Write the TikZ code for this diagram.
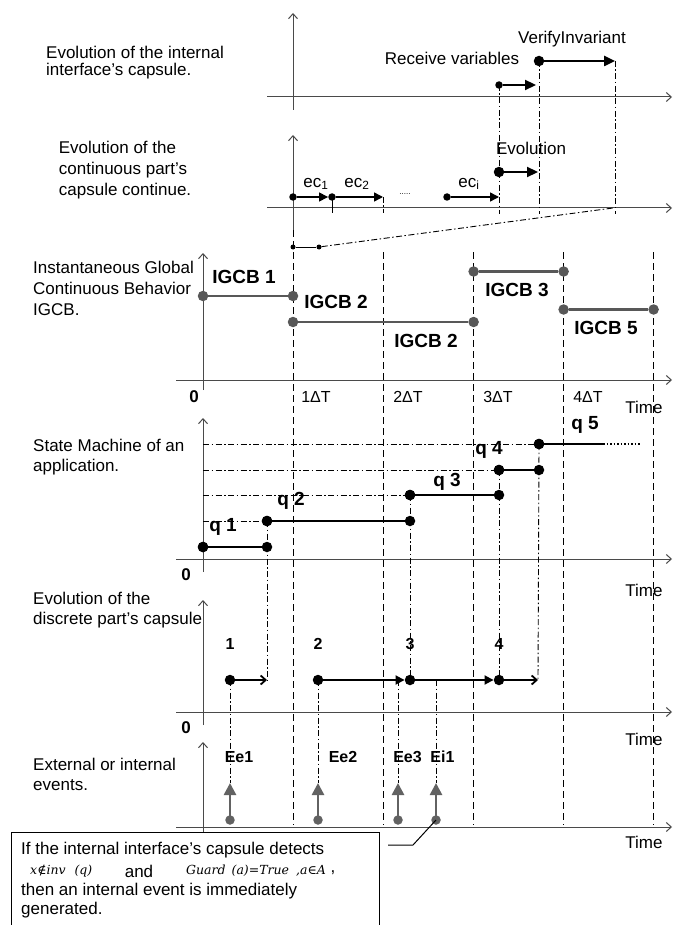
\documentclass[tikz,border=0pt]{standalone}
\usepackage{fontspec}
\setmainfont{Liberation Sans}
\newfontfamily\dserif{DejaVu Serif}
\usetikzlibrary{arrows.meta}
\definecolor{axg}{HTML}{4A4A4A}
\definecolor{igc}{HTML}{585858}
\definecolor{evg}{HTML}{626262}
\begin{document}
\begin{tikzpicture}[x=1pt,y=-1pt,
  ax/.style={draw=axg,line width=1pt,-{Straight Barb[length=5pt,width=9pt]}},
  dsh/.style={line width=1pt,dash pattern=on 7pt off 4pt},
  dd/.style={line width=0.9pt,dash pattern=on 6pt off 2.5pt on 1.5pt off 2.5pt},
  bdot/.style={circle,fill=black,inner sep=0pt,minimum size=10.5pt},
  sdot/.style={circle,fill=black,inner sep=0pt,minimum size=7.5pt},
  tdot/.style={circle,fill=black,inner sep=0pt,minimum size=5pt},
  gdot/.style={circle,fill=igc,inner sep=0pt,minimum size=10.5pt},
  edot/.style={circle,fill=evg,inner sep=0pt,minimum size=9.5pt},
  lbl/.style={font=\fontsize{17}{20}\selectfont,inner sep=0pt},
  blk/.style={inner sep=0pt,anchor=north west,align=left},
  bl/.style={font=\fontsize{19}{22}\selectfont\bfseries,inner sep=0pt},
  bs/.style={font=\fontsize{16}{19}\selectfont\bfseries,inner sep=0pt},
  tk/.style={font=\fontsize{16}{19}\selectfont,inner sep=0pt},
  mth/.style={inner sep=0pt,anchor=west,font=\fontsize{12.5}{13}\selectfont\dserif\itshape},
  bigarr/.style={line width=2.4pt,-{Triangle[length=11pt,width=10pt]}},
  eca/.style={line width=1.4pt,-{Triangle[length=9pt,width=9pt]}},
  opn/.style={line width=1.8pt,-{Straight Barb[length=5pt,width=9pt]}},
  fil/.style={line width=1.8pt,-{Triangle[length=9pt,width=9pt]}},
  evarr/.style={draw=evg,line width=2.6pt,-{Triangle[length=12pt,width=12pt]}},
  igl/.style={draw=igc,line width=2.2pt},
  sml/.style={line width=2.2pt},
]
\useasboundingbox (0,0) rectangle (672,925);
\fill[white] (0,0) rectangle (672,925);

% ---------------- coordinates ----------------
\coordinate (a1b) at (293,110); \coordinate (a1t) at (293,13);
\coordinate (h1l) at (267,97);  \coordinate (h1r) at (672,97);
\coordinate (a2b) at (293,230); \coordinate (a2t) at (293,135);
\coordinate (h2l) at (267,208); \coordinate (h2r) at (672,208);
\coordinate (a3b) at (203,390); \coordinate (a3t) at (203,253);
\coordinate (h3l) at (176,380); \coordinate (h3r) at (672,380);
\coordinate (a4b) at (203,572); \coordinate (a4t) at (203,418);
\coordinate (h4l) at (176,559); \coordinate (h4r) at (672,559);
\coordinate (a5b) at (203,725); \coordinate (a5t) at (203,600);
\coordinate (h5l) at (176,712); \coordinate (h5r) at (672,712);
\coordinate (a6b) at (203,832); \coordinate (a6t) at (203,742);
\coordinate (h6l) at (176,827); \coordinate (h6r) at (672,827);

% dashed verticals
\coordinate (g0t) at (293,230);   \coordinate (g0b) at (293,825);
\coordinate (g1t) at (383.6,252); \coordinate (g1b) at (383.6,825);
\coordinate (g2t) at (473.6,252); \coordinate (g2b) at (473.6,825);
\coordinate (g3t) at (563.6,252); \coordinate (g3b) at (563.6,825);
\coordinate (g4t) at (653.6,252); \coordinate (g4b) at (653.6,825);
\draw[dsh] (g0t) -- (g0b);
\draw[dsh] (g1t) -- (g1b);
\draw[dsh] (g2t) -- (g2b);
\draw[dsh] (g3t) -- (g3b);
\draw[dsh] (g4t) -- (g4b);

% ---------------- axes ----------------
\draw[ax] (a1b) -- (a1t); \draw[ax] (h1l) -- (h1r);
\draw[ax] (a2b) -- (a2t); \draw[ax] (h2l) -- (h2r);
\draw[ax] (a3b) -- (a3t); \draw[ax] (h3l) -- (h3r);
\draw[ax] (a4b) -- (a4t); \draw[ax] (h4l) -- (h4r);
\draw[ax] (a5b) -- (a5t); \draw[ax] (h5l) -- (h5r);
\draw[ax] (a6b) -- (a6t); \draw[ax] (h6l) -- (h6r);

% ---------------- left texts ----------------
\node[blk,font=\fontsize{17}{17}\selectfont] (t1) at (46,46) {Evolution of the internal\\interface's capsule.};
\node[blk,font=\fontsize{17}{21}\selectfont] (t2) at (58.7,141) {Evolution of the\\continuous part's\\capsule continue.};
\node[blk,font=\fontsize{17}{21}\selectfont] (t3) at (33,261) {Instantaneous Global\\Continuous Behavior\\IGCB.};
\node[blk,font=\fontsize{17}{20}\selectfont] (t4) at (33,439) {State Machine of an\\application.};
\node[blk,font=\fontsize{17}{20}\selectfont] (t5) at (33,592) {Evolution of the\\discrete part's capsule};
\node[blk,font=\fontsize{17}{20}\selectfont] (t6) at (33,758) {External or internal\\events.};

% ---------------- panel 1 ----------------
\node[bdot] (rv) at (539,61) {};
\coordinate (rve) at (615,61);
\node[sdot] (r0) at (499,85) {};
\coordinate (r0e) at (536,85);
\coordinate (v1) at (499,214); \coordinate (v2) at (539,214); \coordinate (v3) at (615,214);
\draw[dd] (r0.center) -- (v1);
\draw[dd] (rv.center) -- (v2);
\draw[dd] (rve) -- (v3);
\draw[bigarr] (rv) -- (rve);
\draw[bigarr,line width=2.2pt] (r0) -- (r0e);
\node[lbl] (vil) at (572,39) {VerifyInvariant};
\node[lbl] (rvl) at (452,58) {Receive variables};

% ---------------- panel 2 ----------------
\node[sdot] (e0) at (293,197) {};
\node[sdot] (e1) at (332,197) {};
\node[sdot] (e3) at (447,197) {};
\coordinate (e2) at (383,197); \coordinate (e4) at (499,197);
\coordinate (k1) at (332,213); \coordinate (k2) at (383,213);
\draw[line width=0.9pt] (e1.center) -- (k1);
\draw[dd] (e2) -- (k2);
\draw[eca] (e0) -- (e1);
\draw[eca] (e1) -- (e2);
\draw[eca] (e3) -- (e4);
\node[font=\fontsize{8}{8}\selectfont,inner sep=0pt] (dots) at (405,194) {.....};
\node[lbl] (ec1) at (316,184) {ec\textsubscript{1}};
\node[lbl] (ec2) at (357,184) {ec\textsubscript{2}};
\node[lbl] (eci) at (469,184) {ec\textsubscript{i}};
\node[bdot] (ev) at (499,172) {};
\coordinate (eve) at (538,172);
\draw[bigarr,line width=2.2pt] (ev) -- (eve);
\node[lbl] (evl) at (531,148) {Evolution};

% link to IGCB panel
\node[tdot] (s0) at (293,247) {};
\node[tdot] (s1) at (319,247) {};
\coordinate (s2) at (613,208);
\draw[line width=1pt] (s0) -- (s1);
\draw[dd] (s1) -- (s2);

% ---------------- IGCB panel ----------------
\node[gdot] (i1a) at (203,296) {};
\node[gdot] (i1b) at (293,296) {};
\node[gdot] (i2a) at (293,322) {};
\node[gdot] (i2b) at (473.6,322) {};
\node[gdot] (i3a) at (473.6,271.5) {};
\node[gdot] (i3b) at (563.6,271.5) {};
\node[gdot] (i5a) at (563.6,309.5) {};
\node[gdot] (i5b) at (653.6,309.5) {};
\draw[igl] (i1a) -- (i1b);
\draw[igl] (i2a) -- (i2b);
\draw[igl] (i3a) -- (i3b);
\draw[igl] (i5a) -- (i5b);
\node[bl] (l1) at (244,277) {IGCB 1};
\node[bl] (l2) at (336,302) {IGCB 2};
\node[bl] (l2b) at (426,341) {IGCB 2};
\node[bl] (l3) at (517,290) {IGCB 3};
\node[bl] (l5) at (606,328) {IGCB 5};
\node[bs,font=\fontsize{17}{19}\selectfont\bfseries] (z3) at (194,397) {0};
\node[tk] (d1t) at (316,397) {1ΔT};
\node[tk] (d2t) at (408,397) {2ΔT};
\node[tk] (d3t) at (498,397) {3ΔT};
\node[tk] (d4t) at (588,397) {4ΔT};
\node[lbl] (tm3) at (644,407) {Time};

% ---------------- state machine panel ----------------
\node[bdot] (q1a) at (203,547) {};
\node[bdot] (q1b) at (267,547) {};
\node[bdot] (q2a) at (267,521) {};
\node[bdot] (q2b) at (410,521) {};
\node[bdot] (q3a) at (410,495) {};
\node[bdot] (q3b) at (499,495) {};
\node[bdot] (q4a) at (499,470) {};
\node[bdot] (q4b) at (539,470) {};
\node[bdot] (q5a) at (539,444) {};
\coordinate (q5e) at (603,444); \coordinate (q5d) at (640,444);
\coordinate (l1s) at (203,444); \coordinate (l2s) at (203,470);
\coordinate (l3s) at (203,495); \coordinate (l4s) at (203,521);

% discrete coordinates
\node[bdot] (d1) at (230,680) {};
\node[bdot] (d2) at (318,680) {};
\node[bdot] (d3) at (410,680) {};
\node[bdot] (d4) at (499,680) {};
\coordinate (d1e) at (267,680); \coordinate (d4e) at (538,680);
\coordinate (x3) at (398,680); \coordinate (x4) at (436,680);

\draw[dd] (l1s) -- (q5a.center);
\draw[dd] (l2s) -- (q4a.center);
\draw[dd] (l3s) -- (q3a.center);
\draw[dd] (l4s) -- (q2a.center);
\draw[dd] (q2a.center) -- (d1e);
\draw[dd] (q3a.center) -- (d3.center);
\draw[dd] (q4a.center) -- (d4.center);
\draw[dd] (q5a.center) -- (d4e);
\draw[sml] (q1a) -- (q1b);
\draw[sml] (q2a) -- (q2b);
\draw[sml] (q3a) -- (q3b);
\draw[sml] (q4a) -- (q4b);
\draw[sml] (q5a) -- (q5e);
\draw[line width=2pt,dash pattern=on 1.5pt off 2pt] (q5e) -- (q5d);
\node[bdot] (q1c) at (q1a) {};
\node[bdot] (q2c) at (q2a) {};
\node[bdot] (q3c) at (q3a) {};
\node[bdot] (q4c) at (q4a) {};
\node[bdot] (q5c) at (q5a) {};
\node[bl] (q1l) at (223,527) {q 1};
\node[bl] (q2l) at (291,501) {q 2};
\node[bl] (q3l) at (447,482) {q 3};
\node[bl] (q4l) at (489,450) {q 4};
\node[bl] (q5l) at (585,425) {q 5};
\node[bs,font=\fontsize{17}{19}\selectfont\bfseries] (z4) at (186,575) {0};
\node[lbl] (tm4) at (644,590) {Time};

% ---------------- discrete panel ----------------
\draw[opn] (d1) -- (d1e);
\draw[fil] (d2) -- (d3);
\draw[fil] (d3) -- (d4);
\draw[opn] (d4) -- (d4e);
\node[bs] (n1) at (230,644) {1};
\node[bs] (n2) at (318,644) {2};
\node[bs] (n3) at (410,644) {3};
\node[bs] (n4) at (499,644) {4};
\node[bs,font=\fontsize{17}{19}\selectfont\bfseries] (z5) at (186,728) {0};
\node[lbl] (tm5) at (644,739) {Time};

% ---------------- events panel ----------------
\node[edot] (ee1b) at (230,820) {};
\node[edot] (ee2b) at (318,820) {};
\node[edot] (ee3b) at (398,820) {};
\node[edot] (ei1b) at (436,820) {};
\coordinate (ee1t) at (230,783); \coordinate (ee2t) at (318,783);
\coordinate (ee3t) at (398,783); \coordinate (ei1t) at (436,783);
\draw[dd] (d1.center) -- (ee1t);
\draw[dd] (d2.center) -- (ee2t);
\draw[dd] (x3) -- (ee3t);
\draw[dd] (x4) -- (ei1t);
\node[bs] (ee1l) at (239,757) {Ee1};
\node[bs] (ee2l) at (343,757) {Ee2};
\node[bs] (ee3l) at (407.5,757) {Ee3};
\node[bs] (ei1l) at (442.5,757) {Ei1};
\draw[evarr] (ee1b.center) -- (ee1t);
\draw[evarr] (ee2b.center) -- (ee2t);
\draw[evarr] (ee3b.center) -- (ee3t);
\draw[evarr] (ei1b.center) -- (ei1t);
\node[lbl] (tm6) at (644,842) {Time};

% ---------------- callout ----------------
\node[draw,line width=1pt,fill=white,anchor=north west,minimum width=368pt,minimum height=120pt,inner sep=0pt] (box) at (10.7,832) {};
\node[blk,font=\fontsize{17}{19}\selectfont] (boxl1) at (21,842) {If the internal interface's capsule detects};
\node[mth] (boxm1) at (30,871) {x∉inv\hspace{9pt}(q)};
\node[inner sep=0pt,font=\fontsize{17}{19}\selectfont] (boxand) at (139,871) {and};
\node[mth] (boxm2) at (186,871) {Guard\hspace{6pt}(a)=True\hspace{7pt},a∈A};
\node[inner sep=0pt,font=\fontsize{17}{19}\selectfont] (boxc) at (333,873) {,};
\node[blk,font=\fontsize{17}{19.3}\selectfont] (boxl3) at (21,883) {then an internal event is immediately\\generated.};
\coordinate (c1) at (413,845); \coordinate (c2) at (388,845);
\draw[line width=1pt] (ei1b.center) -- (c1) -- (c2);
\end{tikzpicture}
\end{document}
